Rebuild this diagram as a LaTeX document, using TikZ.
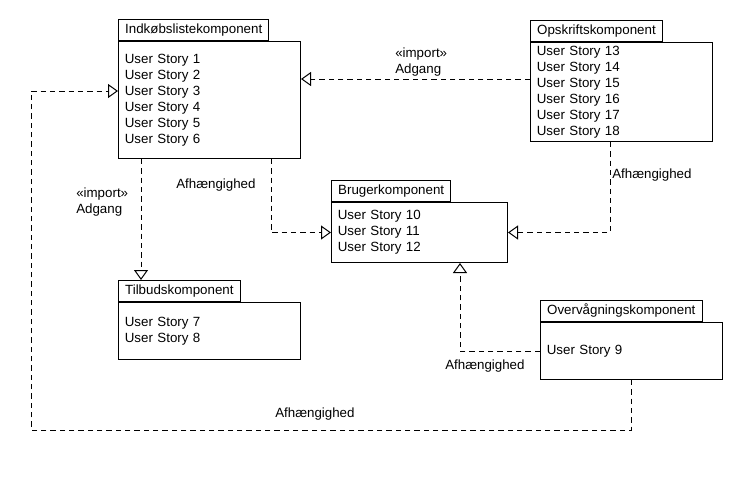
\documentclass[tikz,border=0pt]{standalone}
\usepackage{fontspec}
\setmainfont{Liberation Sans}
\usetikzlibrary{arrows.meta}
\tikzset{
  pkgbody/.style={draw, line width=0.75pt, anchor=north west, align=left, inner xsep=4.75pt, inner ysep=1pt},
  pkgtab/.style={draw, line width=0.75pt, anchor=south west, minimum height=15.75pt, inner xsep=5pt, inner ysep=0pt},
  dep/.style={line width=0.75pt, dash pattern=on 4pt off 3pt, -{Triangle[open, length=7.5pt, width=10.5pt]}},
  lbl/.style={anchor=west, align=left, inner sep=0pt}
}

\begin{document}
\begin{tikzpicture}[x=0.75pt, y=-0.75pt, font=\fontsize{10}{12}\selectfont]
    \useasboundingbox (0,0) rectangle (740,490);
    \node [pkgbody, text width=127pt, minimum height=87.75pt] (indkob) at (118,41) {User Story 1\\User Story 2\\User Story 3\\User Story 4\\User Story 5\\User Story 6};
    \node [pkgtab] (indkobtab) at (indkob.north west) {Indkøbslistekomponent};
    \node [pkgbody, text width=127pt, minimum height=74.25pt] (opskrift) at (530,42) {User Story 13\\User Story 14\\User Story 15\\User Story 16\\User Story 17\\User Story 18};
    \node [pkgtab] (opskrifttab) at (opskrift.north west) {Opskriftskomponent};
    \node [pkgbody, text width=122.5pt, minimum height=45pt] (bruger) at (331,202) {User Story 10\\User Story 11\\User Story 12};
    \node [pkgtab] (brugertab) at (bruger.north west) {Brugerkomponent};
    \node [pkgbody, text width=127pt, minimum height=42.75pt] (tilbud) at (118,302) {User Story 7\\User Story 8};
    \node [pkgtab] (tilbudtab) at (tilbud.north west) {Tilbudskomponent};
    \node [pkgbody, text width=127pt, minimum height=42.75pt] (overvaag) at (540,322) {User Story 9};
    \node [pkgtab] (overvaagtab) at (overvaag.north west) {Overvågningskomponent};
    \coordinate (retur) at (31,430);
    \draw [dep] (opskrift.west |- 0,79) -- (indkob.east |- 0,79);
    \draw [dep] (indkob.south -| 141,0) -- (tilbudtab.north -| 141,0);
    \draw [dep] (indkob.south -| 271,0) |- (bruger.west);
    \draw [dep] (opskrift.south -| 610,0) |- (bruger.east);
    \draw [dep] (overvaag.west) -| (bruger.south -| 460,0);
    \draw [dep] (overvaag.south -| 631,0) |- (retur) |- (indkob.west |- 0,91);
    \node [lbl] (impadgang1) at (395,62) {«import»\\Adgang};
    \node [lbl] (impadgang2) at (76,202) {«import»\\Adgang};
    \node [lbl] (afh1) at (176,185) {Afhængighed};
    \node [lbl] (afh2) at (612,175) {Afhængighed};
    \node [lbl] (afh3) at (445,366) {Afhængighed};
    \node [lbl] (afh4) at (275,414) {Afhængighed};
\end{tikzpicture}
\end{document}
